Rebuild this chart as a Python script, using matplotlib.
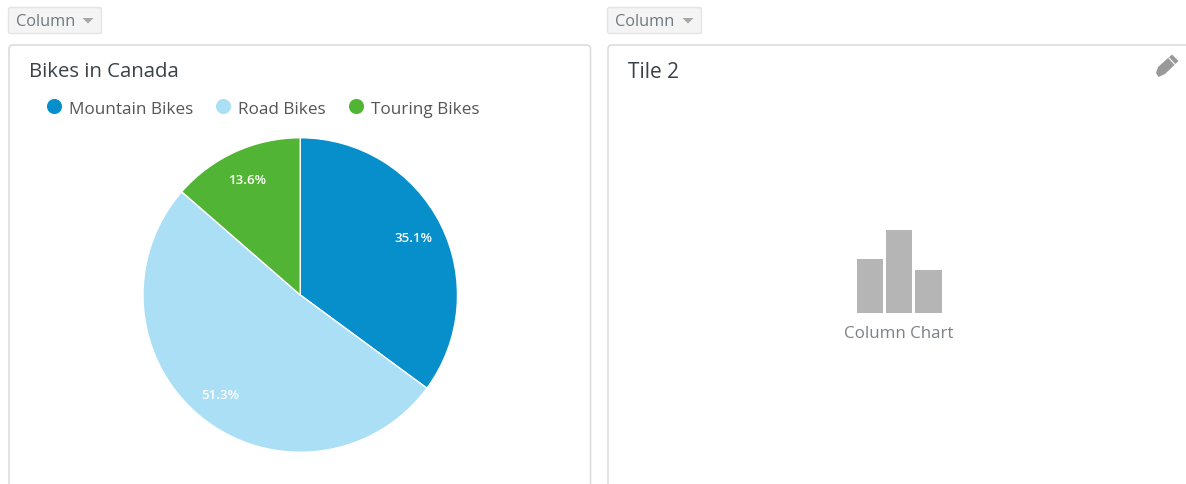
"""Two dashboard tiles: bikes pie chart and an empty column chart placeholder."""

import matplotlib
import matplotlib.pyplot as plt
from matplotlib.patches import FancyBboxPatch, Polygon

matplotlib.use("Agg")

plt.rcParams["font.family"] = ["Open Sans", "DejaVu Sans"]

W, H = 1186, 485

# Data
categories = ["Mountain Bikes", "Road Bikes", "Touring Bikes"]
shares = [35.1, 51.3, 13.6]
colors = ["#068FCB", "#ABDFF5", "#52B435"]
icon_heights = [54, 84, 43]

fig = plt.figure(figsize=(W / 100, H / 100), dpi=100, facecolor="white")


def px_axes(left, top, right, bottom):
    """Axes placed with pixel edges measured from the top left of the image."""
    return fig.add_axes([left / W, 1 - bottom / H, (right - left) / W, (bottom - top) / H])


# Overlay in image pixels for the tile chrome
bg = fig.add_axes([0, 0, 1, 1])
bg.set_xlim(0, W)
bg.set_ylim(H, 0)
bg.set_axis_off()

# dropdown buttons
for x0, x1 in [(8, 102), (607, 702)]:
    bg.add_patch(FancyBboxPatch((x0 + 0.5, 8.5), x1 - x0 - 1, 26, boxstyle="round,pad=0,rounding_size=2",
                                mutation_aspect=1, fc="#F4F4F4", ec="#E4E4E4", lw=1))
    bg.text(x0 + 8, 21.5, "Column", fontsize=11.8, color="#6F7A80", va="center", ha="left")
    bg.add_patch(Polygon([(x1 - 19.5, 19), (x1 - 8.5, 19), (x1 - 14, 24.5)], fc="#A6A6A6", ec="none"))

# tiles run off the bottom of the image
for x0, x1 in [(9, 590.5), (608, 1230)]:
    bg.add_patch(FancyBboxPatch((x0, 46), x1 - x0, 480, boxstyle="round,pad=0,rounding_size=4",
                                mutation_aspect=1, fc="white", ec="#DADADA", lw=1.1))

bg.text(29, 72, "Bikes in Canada", fontsize=14.7, color="#3A4248", va="center", ha="left")
bg.text(628, 72, "Tile 2", fontsize=15, color="#3A4248", va="center", ha="left")

# legend
for x, name, color in zip([54, 223, 356], categories, colors):
    bg.scatter([x], [107], s=118, color=color, linewidths=0)
    bg.text(x + 15, 109.5, name, fontsize=12.3, color="#555555", va="center", ha="left")

# pencil icon
bg.add_patch(Polygon([(1156, 74), (1158, 68), (1172, 55.5), (1178.5, 62), (1165, 75), (1158.5, 78)],
                     fc="#999999", ec="none"))
bg.plot([1169, 1175], [59, 65.5], color="white", lw=0.8)

bg.text(899, 334, "Column Chart", fontsize=12.2, color="#7B8287", va="center", ha="center")

# Pie
ax = px_axes(143, 138.5, 457.5, 453.5)
wedges, _, autotexts = ax.pie(
    shares, colors=colors, startangle=90, counterclock=False, radius=1,
    autopct="%.1f%%", pctdistance=0.81,
    wedgeprops=dict(edgecolor="white", linewidth=1),
    textprops=dict(color="white", fontsize=9.6, fontweight="semibold"),
)
ax.set_xlim(-1, 1)
ax.set_ylim(-1, 1)

# Placeholder column icon
icon = px_axes(856.5, 230.5, 941.5, 314)
icon.bar(range(len(icon_heights)), icon_heights, width=0.9, color="#B5B5B5")
icon.set_xlim(-0.45, 2.45)
icon.set_ylim(0, 84)
icon.set_axis_off()

fig.savefig("out.png", dpi=100, facecolor="white")
